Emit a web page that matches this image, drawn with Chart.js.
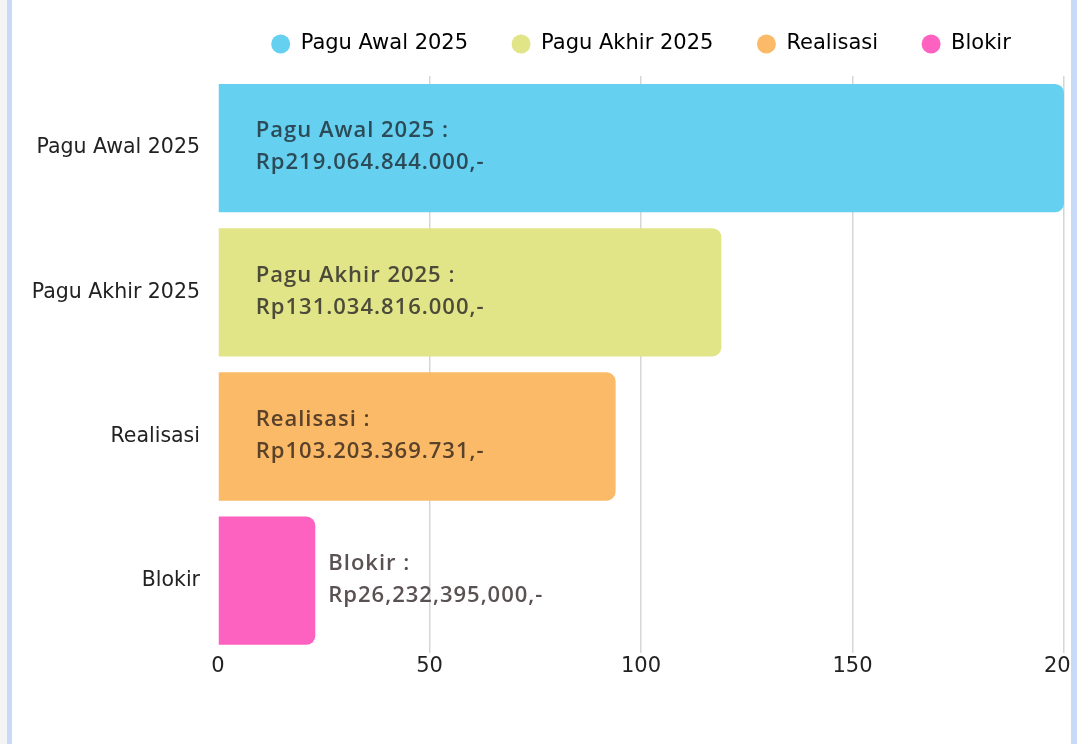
<!DOCTYPE html>
<html>
<head>
<meta charset="utf-8">
<script src="https://cdn.jsdelivr.net/npm/chart.js@4.4.1/dist/chart.umd.min.js"></script>
<style>
  html, body { margin: 0; padding: 0; background: #fff; }
  #wrap { position: relative; width: 1077px; height: 744px; overflow: hidden; }
  #box { position: absolute; left: 0; top: 0; width: 1100px; height: 744px; }
  .edge { position: absolute; top: 0; height: 744px; pointer-events: none; }
</style>
</head>
<body>
<div id="wrap">
  <div id="box"><canvas id="budgetChart"></canvas></div>
  <div class="edge" style="left:0;width:7px;background:#f4f4f4"></div>
  <div class="edge" style="left:7px;width:5px;background:#c8daf7"></div>
  <div class="edge" style="left:1071px;width:6px;background:#c8daf7"></div>
</div>
<script>
// data
const categories = ['Pagu Awal 2025', 'Pagu Akhir 2025', 'Realisasi', 'Blokir'];
const barValues = [200, 119, 94, 23];
const amounts = ['Rp219.064.844.000,-', 'Rp131.034.816.000,-', 'Rp103.203.369.731,-', 'Rp26,232,395,000,-'];
const xTicks = [0, 50, 100, 150, 200];

const barColors = ['#65d0ef', '#e1e487', '#fbba68', '#fd62c1'];
const textColors = ['#2c4a57', '#4c4b3a', '#5a4129', '#5a5252'];

// draws the "Name :" / amount text on each bar
const barText = {
  id: 'barText',
  afterDatasetsDraw(chart) {
    const ctx = chart.ctx;
    const meta = chart.getDatasetMeta(0);
    ctx.save();
    ctx.font = '600 22px "Open Sans"';
    ctx.letterSpacing = '1px';
    ctx.textBaseline = 'middle';
    ctx.textAlign = 'left';
    meta.data.forEach((bar, i) => {
      const inside = (bar.x - bar.base) > 200;
      const x = inside ? bar.base + 37 : bar.x + 13;
      ctx.fillStyle = textColors[i];
      ctx.fillText(categories[i] + ' :', x, bar.y - 17);
      ctx.fillText(amounts[i], x, bar.y + 15);
    });
    ctx.restore();
  }
};

// legend gets a bit more room below it
const legendRoom = {
  id: 'legendRoom',
  beforeLayout(chart) {
    const lg = chart.legend;
    if (lg && !lg._roomy) {
      const fit = lg.fit;
      lg.fit = function () { fit.call(this); this.height = 86; };
      lg._roomy = true;
    }
  }
};

new Chart(document.getElementById('budgetChart'), {
  type: 'bar',
  data: {
    labels: categories,
    datasets: [{
      data: barValues,
      backgroundColor: barColors,
      borderWidth: 0,
      borderRadius: 9,
      barPercentage: 0.89,
      categoryPercentage: 1
    }]
  },
  plugins: [barText, legendRoom],
  options: {
    indexAxis: 'y',
    responsive: true,
    maintainAspectRatio: false,
    animation: false,
    layout: { padding: { top: -10, right: 36, bottom: 64, left: 0 } },
    plugins: {
      tooltip: { enabled: false },
      legend: {
        position: 'top',
        fullSize: false,
        labels: {
          usePointStyle: true,
          pointStyleWidth: 19,
          boxHeight: 13.5,
          padding: 43.5,
          color: '#222',
          font: { family: 'DejaVu Sans', size: 21 },
          generateLabels: () => categories.map((c, i) => ({
            text: c,
            fillStyle: barColors[i],
            strokeStyle: barColors[i],
            lineWidth: 0,
            pointStyle: 'circle',
            hidden: false,
            index: i
          }))
        }
      }
    },
    scales: {
      x: {
        min: 0,
        max: 200,
        afterBuildTicks: (scale) => { scale.ticks = xTicks.map(v => ({ value: v })); },
        border: { display: false },
        grid: {
          drawTicks: false,
          color: (c) => c.tick && c.tick.value === 0 ? 'rgba(0,0,0,0)' : '#d6d6d6',
          lineWidth: 1.5
        },
        ticks: {
          padding: 1,
          color: '#222',
          font: { family: 'DejaVu Sans', size: 21 }
        }
      },
      y: {
        afterFit: (scale) => { scale.width = 218; },
        border: { display: false },
        grid: { display: false },
        ticks: {
          padding: 10,
          color: '#222',
          font: { family: 'DejaVu Sans', size: 20.5 }
        }
      }
    }
  }
});
</script>
</body>
</html>
